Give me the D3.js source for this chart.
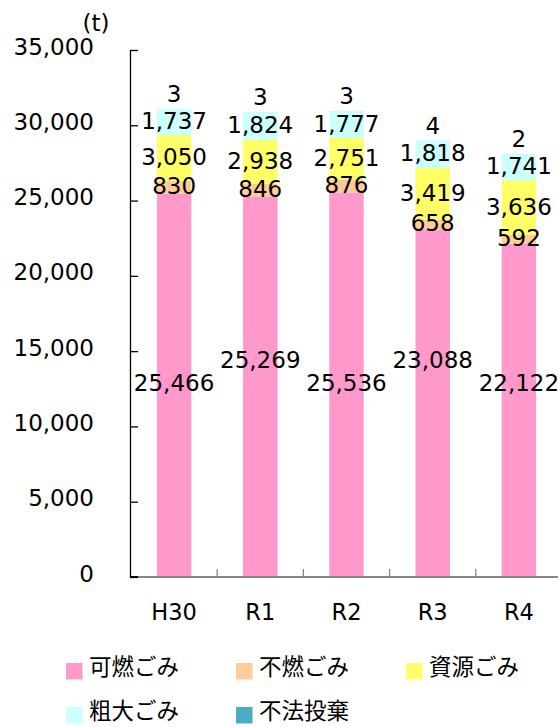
<!DOCTYPE html>
<html>
<head>
<meta charset="utf-8">
<script src="https://cdn.jsdelivr.net/npm/d3@7"></script>
<style>
  html, body { margin: 0; padding: 0; background: #fff; }
  svg { display: block; }
  text { font-family: "DejaVu Sans", Verdana, sans-serif; fill: #000; }
  .jp { font-family: "Noto Sans CJK JP", sans-serif; }
</style>
</head>
<body>
<svg id="chart" width="558" height="727"></svg>
<script>
const years = ["H30", "R1", "R2", "R3", "R4"];
const burnable = [25466, 25269, 25536, 23088, 22122];
const nonBurnable = [830, 846, 876, 658, 592];
const resource = [3050, 2938, 2751, 3419, 3636];
const bulky = [1737, 1824, 1777, 1818, 1741];
const illegal = [3, 3, 3, 4, 2];
const seriesNames = ["可燃ごみ", "不燃ごみ", "資源ごみ", "粗大ごみ", "不法投棄"];
const seriesColors = ["#FF99CC", "#FFCC99", "#FFFF66", "#CCFFFF", "#4BACC6"];
const yTicks = [0, 5000, 10000, 15000, 20000, 25000, 30000, 35000];
const unitLabel = "(t)";

const seriesValues = [burnable, nonBurnable, resource, bulky, illegal];
const rows = years.map((y, i) => {
  const r = { year: y };
  seriesNames.forEach((n, k) => { r[n] = seriesValues[k][i]; });
  return r;
});

const svg = d3.select("#chart");
const axisX = 130, y0 = 577, yTop = 50;

const x = d3.scaleBand().domain(years).range([131, 562]).paddingInner(0.6).paddingOuter(0.3);
const y = d3.scaleLinear().domain([0, 35000]).range([y0, yTop]);
const fmt = d3.format(",");

const stacked = d3.stack().keys(seriesNames)(rows);

// bars
const g = svg.append("g");
stacked.forEach((layer, k) => {
  g.selectAll(null).data(layer).enter().append("rect")
    .attr("x", d => x(d.data.year))
    .attr("width", x.bandwidth())
    .attr("y", d => y(d[1]))
    .attr("height", d => Math.max(0, y(d[0]) - y(d[1])))
    .attr("fill", seriesColors[k]);
});

// y axis
const yAxis = d3.axisLeft(y).tickValues(yTicks).tickFormat(fmt)
  .tickSizeInner(-8).tickSizeOuter(0).tickPadding(36);
const ya = svg.append("g").attr("transform", `translate(${axisX},0)`).call(yAxis);
ya.select(".domain").attr("stroke", "#000").attr("stroke-width", 1.3);
ya.selectAll(".tick line").attr("stroke", "#000").attr("stroke-width", 1.3);
ya.selectAll(".tick text")
  .attr("font-size", 23).attr("fill", "#000")
  .attr("dy", "0.35em").attr("y", -4);

// x baseline and separators
svg.append("line").attr("x1", axisX).attr("x2", 558).attr("y1", y0).attr("y2", y0)
  .attr("stroke", "#868686").attr("stroke-width", 2);
svg.append("line").attr("x1", axisX).attr("x2", axisX + 8).attr("y1", y0).attr("y2", y0)
  .attr("stroke", "#000").attr("stroke-width", 2);
const gap = x.step() - x.bandwidth();
svg.append("g").selectAll("line").data(years.slice(1)).enter().append("line")
  .attr("x1", d => x(d) - gap / 2).attr("x2", d => x(d) - gap / 2)
  .attr("y1", y0).attr("y2", y0 - 8)
  .attr("stroke", "#868686").attr("stroke-width", 1.3);

// x labels
const xAxis = d3.axisBottom(x).tickSize(0).tickPadding(0);
const xa = svg.append("g").attr("transform", `translate(0,${y0})`).call(xAxis);
xa.select(".domain").remove();
xa.selectAll(".tick text")
  .attr("font-size", 22.5).attr("fill", "#000")
  .attr("y", 35).attr("dy", "0.35em");

// unit label
svg.append("text").attr("x", 96).attr("y", 31).attr("text-anchor", "middle")
  .attr("font-size", 23).text(unitLabel);

// data labels
const labG = svg.append("g").attr("font-size", 23).attr("text-anchor", "middle");
const pinkBase = y(d3.max(burnable) / 2) - 2;
stacked.forEach((layer, k) => {
  labG.selectAll(null).data(layer).enter().append("text")
    .attr("x", d => x(d.data.year) + x.bandwidth() / 2)
    .attr("y", (d, i) => {
      if (k === 0) return pinkBase - (i % 2 === 1 ? 23 : 0);
      if (k === 4) return y(d[1]) - 15;
      return (y(d[0]) + y(d[1])) / 2 - 1;
    })
    .attr("dy", "0.35em")
    .text(d => fmt(d[1] - d[0]));
});

// legend
const legendPos = [[66, 671], [236, 671], [406, 671], [66, 715], [236, 715]];
const lg = svg.append("g");
seriesNames.forEach((n, k) => {
  const [lx, ly] = legendPos[k];
  lg.append("rect").attr("x", lx).attr("y", ly - 8).attr("width", 16.5).attr("height", 16.5)
    .attr("fill", seriesColors[k]);
  lg.append("text").attr("class", "jp").attr("x", lx + 23).attr("y", ly - 4)
    .attr("dy", "0.36em").attr("font-size", 22.5).text(n);
});
</script>
</body>
</html>
